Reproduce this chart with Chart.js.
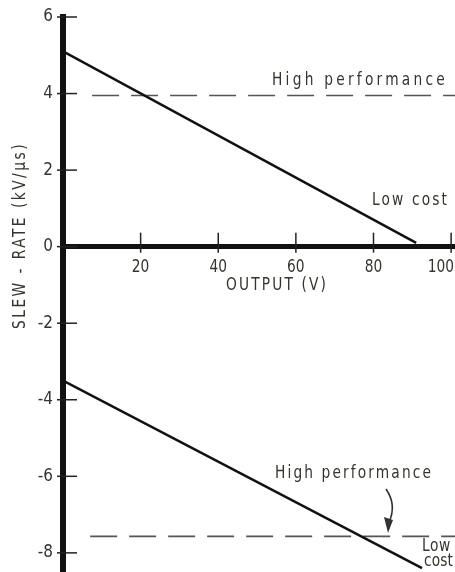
<!DOCTYPE html>
<html>
<head>
<meta charset="utf-8">
<script src="https://cdn.jsdelivr.net/npm/chart.js@4.4.1/dist/chart.umd.min.js"></script>
<style>
  html, body { margin: 0; padding: 0; background: #fff; }
  #wrap { width: 455px; height: 572px; }
</style>
</head>
<body>
<div id="wrap"><canvas id="c" width="455" height="572"></canvas></div>
<script>
// values
const xTicks = [20, 40, 60, 80, 100];
const yTicks = [6, 4, 2, 0, -2, -4, -6, -8];

const lowCostUpperX = [0, 91];
const lowCostUpperY = [5.1, 0.1];
const highPerfUpperX = [7.5, 101];
const highPerfUpperY = [3.95, 3.95];

const lowCostLowerX = [0, 92.5];
const lowCostLowerY = [-3.5, -8.4];
const highPerfLowerX = [7, 101];
const highPerfLowerY = [-7.57, -7.57];

const xTitle = 'OUTPUT (V)';
const yTitle = 'SLEW - RATE (kV/µs)';

const FONT = '"DejaVu Sans Condensed", "DejaVu Sans", sans-serif';
const INK = '#35352d';

function pts(xs, ys) {
    return xs.map((x, i) => ({ x: x, y: ys[i] }));
}

// narrow, widely spaced lettering stretched over a given width
function spaced(ctx, text, x, y, width, size) {
    const sx = 0.85;
    ctx.save();
    ctx.font = size + 'px ' + FONT;
    ctx.letterSpacing = '0px';
    const natural = ctx.measureText(text).width;
    const w = natural * sx;
    ctx.translate(x, y);
    if (w >= width) {
        ctx.scale(width / natural, 1);
    } else {
        ctx.scale(sx, 1);
        ctx.letterSpacing = ((width - w) / text.length / sx) + 'px';
    }
    ctx.textAlign = 'left';
    ctx.textBaseline = 'middle';
    ctx.fillText(text, 0, 0);
    ctx.restore();
}

const decor = {
    id: 'decor',
    afterDraw(chart) {
        const ctx = chart.ctx;
        const xs = chart.scales.x, ys = chart.scales.y;
        const x0 = xs.getPixelForValue(0);
        const y0 = ys.getPixelForValue(0);

        ctx.save();
        ctx.strokeStyle = '#222';
        ctx.lineWidth = 1.5;
        ctx.fillStyle = INK;

        // tick crosses on the y axis
        yTicks.forEach(v => {
            const py = ys.getPixelForValue(v);
            ctx.beginPath();
            ctx.moveTo(x0 - 6, py);
            ctx.lineTo(x0 + 14, py);
            ctx.stroke();
        });

        // tick crosses + labels on the x axis
        ctx.font = '18px ' + FONT;
        xTicks.forEach(v => {
            const px = xs.getPixelForValue(v);
            ctx.beginPath();
            ctx.moveTo(px, y0 - 14);
            ctx.lineTo(px, y0 + 6);
            ctx.stroke();
            const label = String(v);
            const w = ctx.measureText(label).width * 0.85;
            let lx = px - w / 2;
            if (lx + w > chart.width - 1) lx = chart.width - 1 - w;
            spaced(ctx, label, lx, y0 + 21, w, 18);
        });

        // axis titles
        spaced(ctx, xTitle, 226, y0 + 39, 102, 18);
        ctx.save();
        ctx.translate(20, 236);
        ctx.rotate(-Math.PI / 2);
        spaced(ctx, yTitle, -93, 0, 187, 18);
        ctx.restore();

        // curve labels
        spaced(ctx, 'High performance', 272, 80, 176, 18);
        spaced(ctx, 'Low cost', 372, 200, 77, 18);
        spaced(ctx, 'High performance', 275, 473, 158, 18);
        spaced(ctx, 'Low', 422, 546, 29, 18);
        spaced(ctx, 'cost', 424, 561, 29, 18);

        // curved pointer arrow
        ctx.strokeStyle = '#333';
        ctx.lineWidth = 1.6;
        ctx.beginPath();
        ctx.moveTo(386, 489);
        ctx.quadraticCurveTo(397, 505, 389, 522);
        ctx.stroke();
        ctx.fillStyle = '#333';
        ctx.beginPath();
        ctx.moveTo(384, 517);
        ctx.lineTo(393, 520);
        ctx.lineTo(388, 533);
        ctx.closePath();
        ctx.fill();

        ctx.restore();
    }
};

const solid = { borderColor: '#111', borderWidth: 2.5, pointRadius: 0, fill: false, tension: 0 };
const dashed = { borderColor: '#555', borderWidth: 1.6, borderDash: [27, 12], pointRadius: 0, fill: false, tension: 0 };

new Chart(document.getElementById('c'), {
    type: 'line',
    data: {
        datasets: [
            Object.assign({ label: 'Low cost', data: pts(lowCostUpperX, lowCostUpperY) }, solid),
            Object.assign({ label: 'High performance', data: pts(highPerfUpperX, highPerfUpperY) }, dashed),
            Object.assign({ label: 'Low cost ', data: pts(lowCostLowerX, lowCostLowerY) }, solid),
            Object.assign({ label: 'High performance ', data: pts(highPerfLowerX, highPerfLowerY) }, dashed)
        ]
    },
    options: {
        responsive: false,
        animation: false,
        layout: { padding: { top: 17, left: 0, right: 0, bottom: 0 } },
        plugins: {
            legend: { display: false },
            tooltip: { enabled: false }
        },
        scales: {
            x: {
                type: 'linear',
                min: 0,
                max: 101,
                position: { y: 0 },
                grid: { display: false, drawTicks: false },
                ticks: { display: false },
                border: { display: true, color: '#111', width: 5 },
                afterFit: s => { s.paddingLeft = 0; s.paddingRight = 0; }
            },
            y: {
                type: 'linear',
                min: -8.5,
                max: 6,
                position: 'left',
                grid: { display: false, drawTicks: false },
                border: { display: true, color: '#111', width: 6 },
                afterBuildTicks: s => { s.ticks = yTicks.map(v => ({ value: v })); },
                afterFit: s => { s.width = 63; s.paddingTop = 0; s.paddingBottom = 0; },
                ticks: {
                    padding: 10,
                    color: INK,
                    font: { family: FONT, size: 17 }
                }
            }
        }
    },
    plugins: [decor]
});
</script>
</body>
</html>
